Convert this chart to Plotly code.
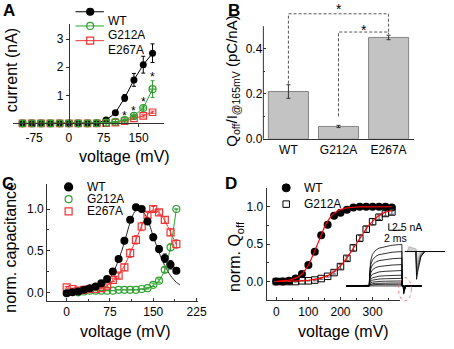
import math
import plotly.graph_objects as go

W, H = 454, 349
FONT = "Liberation Sans, Arial, Helvetica, sans-serif"
C_WT = "#000000"
C_G = "#2fa02f"
C_E = "#f03434"
AXC = "#333333"

# ---------------- Panel A : current-voltage ----------------
a_voltage = [-100, -80, -60, -40, -20, 0, 20, 40, 60, 80, 100, 120, 140, 160, 180]
a_wt = [0, 0, 0, 0, 0, 0, 0, 0, 0.02, 0.12, 0.38, 0.91, 1.55, 2.09, 2.50]
a_wt_err = [0, 0, 0, 0, 0, 0, 0, 0, 0.01, 0.03, 0.06, 0.12, 0.23, 0.30, 0.33]
a_g212a = [0, 0, 0, 0, 0, 0, 0, 0, 0.01, 0.03, 0.06, 0.12, 0.27, 0.55, 1.22]
a_g212a_err = [0, 0, 0, 0, 0, 0, 0, 0, 0, 0.01, 0.01, 0.02, 0.03, 0.07, 0.30]
a_e267a = [0, 0, 0, 0, 0, 0, 0, 0, 0, 0.01, 0.03, 0.08, 0.18, 0.27, 0.40]
a_e267a_err = [0, 0, 0, 0, 0, 0, 0, 0, 0, 0.01, 0.01, 0.02, 0.03, 0.04, 0.04]
a_star_voltage = [120, 140, 160, 180]
a_xticks = [-75, 0, 75, 150]
a_xticklabels = ["-75", "0", "75", "150"]
a_yticks = [1, 2, 3]

# ---------------- Panel B : Qoff / I ----------------
b_groups = ["WT", "G212A", "E267A"]
b_ratio = [0.21, 0.055, 0.45]
b_err = [0.03, 0.005, 0.01]
b_sig_left = [0, 1]
b_sig_right = [2, 2]
b_sig_top = [0.555, 0.474]
b_sig_left_bottom = [0.245, 0.10]
b_sig_right_bottom = [0.474, 0.465]
b_yticks = [0.0, 0.2, 0.4]

# ---------------- Panel C : normalized capacitance ----------------
c_voltage = [0, 10, 20, 30, 40, 50, 60, 70, 80, 90, 100, 110, 120, 130, 140, 150, 160, 170, 180, 190]
c_wt = [-0.01, 0.0, 0.01, 0.03, 0.05, 0.07, 0.11, 0.16, 0.25, 0.40, 0.62, 0.87, 1.02, 1.00, 0.85, 0.66, 0.52, 0.41, 0.33, 0.26]
c_wt_err = [0, 0, 0, 0, 0, 0, 0, 0, 0.01, 0.02, 0.02, 0.02, 0.02, 0.02, 0.03, 0.04, 0.04, 0.05, 0.05, 0.03]
c_e267a = [0.06, 0.04, 0.02, 0.03, 0.04, 0.04, 0.05, 0.08, 0.15, 0.20, 0.30, 0.47, 0.63, 0.79, 0.93, 1.00, 0.96, 0.87, 0.72, 0.58]
c_e267a_err = [0.01, 0.01, 0.01, 0.01, 0.01, 0.01, 0.01, 0.02, 0.02, 0.03, 0.04, 0.05, 0.05, 0.05, 0.03, 0.03, 0.03, 0.04, 0.04, 0.05]
c_g_voltage = [20, 30, 40, 50, 60, 70, 80, 90, 100, 110, 120, 130, 140, 150, 160, 170, 180, 190]
c_g212a = [0.0, 0.01, 0.02, 0.02, 0.02, 0.02, 0.02, 0.03, 0.03, 0.03, 0.03, 0.04, 0.05, 0.09, 0.14, 0.27, 0.54, 1.00]
c_g212a_err = [0, 0, 0, 0, 0, 0, 0, 0, 0, 0, 0, 0, 0.01, 0.02, 0.02, 0.03, 0.04, 0.0]
c_fit_wt_v = [0, 20, 40, 50, 60, 70, 80, 90, 100, 110, 118, 125, 132, 140, 150, 160, 170, 180, 190, 196]
c_fit_wt = [0.0, 0.01, 0.03, 0.05, 0.08, 0.13, 0.23, 0.39, 0.60, 0.84, 0.97, 1.00, 0.97, 0.88, 0.67, 0.48, 0.32, 0.20, 0.12, 0.09]
c_fit_e_v = [0, 20, 40, 60, 70, 80, 90, 100, 110, 120, 130, 140, 150, 160, 170, 180, 190]
c_fit_e = [0.03, 0.03, 0.03, 0.05, 0.08, 0.13, 0.21, 0.32, 0.47, 0.63, 0.80, 0.93, 0.99, 0.96, 0.86, 0.72, 0.57]
c_fit_g_v = [130, 140, 150, 160, 170, 180, 190]
c_fit_g = [0.03, 0.045, 0.08, 0.14, 0.27, 0.55, 1.00]
c_xticks = [0, 75, 150, 225]
c_yticks = [0.0, 0.5, 1.0]

# ---------------- Panel D : normalized Qoff ----------------
d_voltage = [0, 20, 40, 60, 80, 100, 120, 140, 160, 180, 200, 220, 240, 260, 280, 300, 320, 340, 360]
d_wt = [0.0, 0.0, 0.01, 0.04, 0.10, 0.22, 0.40, 0.62, 0.76, 0.88, 0.92, 0.96, 0.99, 1.0, 1.0, 1.0, 1.0, 1.0, 0.99]
d_wt_err = [0, 0, 0, 0.01, 0.01, 0.02, 0.02, 0.03, 0.03, 0.02, 0.02, 0.01, 0.01, 0.01, 0.01, 0.01, 0.01, 0.01, 0.01]
d_g212a = [0.0, 0.0, 0.0, 0.0, 0.01, 0.01, 0.02, 0.04, 0.07, 0.12, 0.20, 0.31, 0.45, 0.58, 0.70, 0.80, 0.86, 0.91, 0.93]
d_g212a_err = [0, 0, 0, 0, 0, 0, 0.01, 0.01, 0.01, 0.02, 0.03, 0.03, 0.04, 0.04, 0.04, 0.04, 0.03, 0.03, 0.03]
d_fit_vhalf = [128, 248]
d_fit_slope = [22, 36]
d_fit_v = list(range(0, 362, 4))
d_xticks = [0, 100, 200, 300]
d_yticks = [0.0, 0.5, 1.0]

# inset: raw current traces (ms, nA)
ins_levels = [15.1, 12.5, 10.1, 7.75, 5.6, 3.9, 2.75, 1.8, 1.07, 0.6, 0.25]
ins_tail_depth = [3.0, 2.6, 2.2, 1.8, 1.4, 1.0, 0.7, 0.5, 0.3, 0.2, 0.1]
ins_t_shape = [0, 0.1, 0.25, 0.5, 1.0, 1.5, 2.5, 3.5, 5.0]
ins_frac_shape = [0, 0.40, 0.62, 0.76, 0.86, 0.91, 0.95, 0.98, 1.0]
ins_zoom_base = 12.5
ins_zoom_depth = [10.1, 8.6, 7.2, 5.8, 4.4, 3.1, 2.0, 1.1]
ins_zoom_gray = ["#000000", "#333333", "#555555", "#707070", "#8a8a8a", "#a0a0a0", "#b5b5b5", "#c8c8c8"]

# ---------------- layout geometry (pixels) ----------------
A_BOX = (13, 167, 25, 126)      # x0, x1, ytop, ybottom
B_BOX = (268.7, 422, 5.1, 141.7)
C_BOX = (48, 201.7, 187.8, 306.8)
D_BOX = (272, 408, 191.9, 306.4)
I_BOX = (350, 454, 225, 310)
a_xr, a_yr = [-121, 204], [0, 3.52]
b_xr, b_yr = [-0.5, 2.5], [0, 0.594]
c_xr, c_yr = [-34, 227], [-0.1, 1.3]
d_xr, d_yr = [-30, 385], [-0.25, 1.25]
i_xr, i_yr = [-4.0, 11.6], [-6.5, 23.8]


def dx(b):
    return [b[0] / W, b[1] / W]


def dy(b):
    return [1 - b[3] / H, 1 - b[2] / H]


def px(x):
    return x / W


def py(y):
    return 1 - y / H


fig = go.Figure()


def err(arr, color):
    return dict(type="data", array=arr, color=color, thickness=1, width=2, visible=True)


# ---- Panel A traces
fig.add_trace(go.Scatter(x=a_voltage, y=a_wt, mode="lines+markers", xaxis="x", yaxis="y",
                         line=dict(color=C_WT, width=1),
                         marker=dict(symbol="circle", size=7, color=C_WT),
                         error_y=err(a_wt_err, C_WT), cliponaxis=False))
fig.add_trace(go.Scatter(x=a_voltage, y=a_e267a, mode="lines+markers", xaxis="x", yaxis="y",
                         line=dict(color=C_E, width=1),
                         marker=dict(symbol="square-open", size=6.5, color=C_E, line=dict(width=1.2, color=C_E)),
                         error_y=err(a_e267a_err, C_E), cliponaxis=False))
fig.add_trace(go.Scatter(x=a_voltage, y=a_g212a, mode="lines+markers", xaxis="x", yaxis="y",
                         line=dict(color=C_G, width=1),
                         marker=dict(symbol="circle-cross-open", size=7, color=C_G, line=dict(width=1.2, color=C_G)),
                         error_y=err(a_g212a_err, C_G), cliponaxis=False))
for v in a_star_voltage:
    i = a_voltage.index(v)
    fig.add_annotation(x=v, y=a_g212a[i] + a_g212a_err[i], xref="x", yref="y", text="*",
                       showarrow=False, yanchor="middle", yshift=4,
                       font=dict(size=12, color="#000", family=FONT))

# ---- Panel B traces
b_x = list(range(len(b_groups)))
fig.add_trace(go.Bar(x=b_x, y=b_ratio, xaxis="x2", yaxis="y2", width=0.8,
                     marker=dict(color="#c3c3c3", line=dict(color="#858585", width=1)),
                     error_y=dict(type="data", array=b_err, color="#333", thickness=1, width=2)))
for l, r, top, lb, rb in zip(b_sig_left, b_sig_right, b_sig_top, b_sig_left_bottom, b_sig_right_bottom):
    fig.add_trace(go.Scatter(x=[l, l, r, r], y=[lb, top, top, rb], mode="lines", xaxis="x2", yaxis="y2",
                             line=dict(color="#555", width=1, dash="3px,2px")))
b_star_shift = [5, 2]
for l, r, top, s in zip(b_sig_left, b_sig_right, b_sig_top, b_star_shift):
    fig.add_annotation(x=(l + r) / 2, y=top, xref="x2", yref="y2", text="*", showarrow=False,
                       yanchor="middle", yshift=s, font=dict(size=14, color="#000", family=FONT))
fig.add_shape(type="line", xref="x2 domain", yref="y2", x0=0, x1=0, y0=0, y1=0.5,
              line=dict(color=AXC, width=1))

# ---- Panel C traces
fig.add_trace(go.Scatter(x=c_fit_wt_v, y=c_fit_wt, mode="lines", xaxis="x3", yaxis="y3",
                         line=dict(color="#222", width=1, shape="spline", smoothing=0.8)))
fig.add_trace(go.Scatter(x=c_fit_e_v, y=c_fit_e, mode="lines", xaxis="x3", yaxis="y3",
                         line=dict(color=C_E, width=1, shape="spline", smoothing=0.8)))
fig.add_trace(go.Scatter(x=c_fit_g_v, y=c_fit_g, mode="lines", xaxis="x3", yaxis="y3",
                         line=dict(color=C_G, width=1, shape="spline", smoothing=0.8)))
fig.add_trace(go.Scatter(x=c_g_voltage, y=c_g212a, mode="markers", xaxis="x3", yaxis="y3",
                         marker=dict(symbol="circle-open", size=7, color=C_G, line=dict(width=1.2, color=C_G)),
                         error_y=err(c_g212a_err, C_G), cliponaxis=False))
fig.add_trace(go.Scatter(x=c_voltage, y=c_e267a, mode="markers", xaxis="x3", yaxis="y3",
                         marker=dict(symbol="square-open", size=7, color=C_E, line=dict(width=1.2, color=C_E)),
                         error_y=err(c_e267a_err, C_E), cliponaxis=False))
fig.add_trace(go.Scatter(x=c_voltage, y=c_wt, mode="markers", xaxis="x3", yaxis="y3",
                         marker=dict(symbol="circle", size=8, color=C_WT),
                         error_y=err(c_wt_err, C_WT), cliponaxis=False))

# ---- Panel D traces
fig.add_trace(go.Scatter(x=d_voltage, y=d_wt, mode="markers", xaxis="x4", yaxis="y4",
                         marker=dict(symbol="circle", size=8, color=C_WT),
                         error_y=err(d_wt_err, C_WT), cliponaxis=False))
fig.add_trace(go.Scatter(x=d_voltage, y=d_g212a, mode="markers", xaxis="x4", yaxis="y4",
                         marker=dict(symbol="square-open", size=6.5, color=C_WT, line=dict(width=1, color=C_WT)),
                         error_y=err(d_g212a_err, "#555"), cliponaxis=False))
for vh, k in zip(d_fit_vhalf, d_fit_slope):
    fig.add_trace(go.Scatter(x=d_fit_v, y=[1 / (1 + math.exp(-(v - vh) / k)) for v in d_fit_v],
                             mode="lines", xaxis="x4", yaxis="y4", line=dict(color="#ff0000", width=1.2)))

# ---- Inset traces (current recordings)
tx, ty = [], []
for L, dep in zip(ins_levels, ins_tail_depth):
    tx += [-3.5, 0] + ins_t_shape[1:] + [5.05, 5.22, 5.27, 5.6, 8.0, None]
    ty += [0, 0] + [L * f for f in ins_frac_shape[1:]] + [0, 0, -dep, 0, 0, None]
fig.add_trace(go.Scatter(x=tx, y=ty, mode="lines", xaxis="x5", yaxis="y5",
                         line=dict(color="#000", width=0.8)))
# magnified tail currents
fig.add_trace(go.Scatter(x=[5.8, 6.1, 6.6, 7.2, 7.2, 5.8],
                         y=[ins_zoom_base, ins_zoom_base + 1.8, ins_zoom_base + 1.4,
                            ins_zoom_base + 0.9, ins_zoom_base, ins_zoom_base],
                         mode="lines", fill="toself", fillcolor="#d0d0d0", xaxis="x5", yaxis="y5",
                         line=dict(color="#9a9a9a", width=0.6)))
for dep, col in zip(ins_zoom_depth[::-1], ins_zoom_gray[::-1]):
    fig.add_trace(go.Scatter(x=[7.15, 7.25, 7.45, 7.9, 8.5],
                             y=[ins_zoom_base, ins_zoom_base - dep, ins_zoom_base - dep * 0.7,
                                ins_zoom_base - dep * 0.2, ins_zoom_base],
                             mode="lines", xaxis="x5", yaxis="y5", line=dict(color=col, width=0.8)))
fig.add_trace(go.Scatter(x=[5.45, 11.6], y=[ins_zoom_base, ins_zoom_base], mode="lines", xaxis="x5", yaxis="y5",
                         line=dict(color="#000", width=1)))
# scale bars
fig.add_trace(go.Scatter(x=[3.0, 3.0, 5.0], y=[22.75, 20.25, 20.25], mode="lines", xaxis="x5", yaxis="y5",
                         line=dict(color="#000", width=1)))
fig.add_annotation(x=3.15, y=21.3, xref="x5", yref="y5", text="2.5 nA", showarrow=False, xanchor="left",
                   font=dict(size=10.5, family=FONT, color="#000"))
fig.add_annotation(x=4.1, y=17.3, xref="x5", yref="y5", text="2 ms", showarrow=False,
                   font=dict(size=10.5, family=FONT, color="#000"))
fig.add_shape(type="circle", xref="x5", yref="y5", x0=4.5, x1=6.45, y0=-5.4, y1=3.0,
              line=dict(color="#f08080", width=1, dash="dot"))

# ---- manual legends on a pixel overlay axis
LEG_FONT = dict(size=12, family=FONT, color="#000")
leg_a = [("WT", C_WT, "circle", 12), ("G212A", C_G, "circle-open", 26.5), ("E267A", C_E, "square-open", 41.5)]
for name, col, sym, yy in leg_a:
    fig.add_trace(go.Scatter(x=[77, 106], y=[yy, yy], mode="lines", xaxis="x6", yaxis="y6",
                             line=dict(color=col, width=1)))
    fig.add_trace(go.Scatter(x=[92], y=[yy], mode="markers", xaxis="x6", yaxis="y6",
                             marker=dict(symbol=sym, size=7, color=col, line=dict(width=1.2, color=col))))
    fig.add_annotation(x=px(108), y=py(yy), xref="paper", yref="paper", text=name, showarrow=False,
                       xanchor="left", height=14, font=LEG_FONT)
leg_c = [("WT", C_WT, "circle", 190.7, 8), ("G212A", C_G, "circle-open", 203.3, 7),
         ("E267A", C_E, "square-open", 215.7, 7)]
for name, col, sym, yy, sz in leg_c:
    fig.add_trace(go.Scatter(x=[70], y=[yy], mode="markers", xaxis="x6", yaxis="y6",
                             marker=dict(symbol=sym, size=sz, color=col, line=dict(width=1.2, color=col))))
    fig.add_annotation(x=px(88), y=py(yy), xref="paper", yref="paper", text=name, showarrow=False,
                       xanchor="left", height=12, borderpad=0, font=LEG_FONT)
leg_d = [("WT", C_WT, "circle", 191.7, 8), ("G212A", C_WT, "square-open", 208.3, 6.5)]
for name, col, sym, yy, sz in leg_d:
    fig.add_trace(go.Scatter(x=[292], y=[yy], mode="markers", xaxis="x6", yaxis="y6",
                             marker=dict(symbol=sym, size=sz, color=col, line=dict(width=1, color=col))))
    fig.add_annotation(x=px(308), y=py(yy), xref="paper", yref="paper", text=name, showarrow=False,
                       xanchor="left", height=14, font=LEG_FONT)

# ---- axis titles & panel letters
titles = [
    ("current (nA)", 12, 72, -90, 16),
    ("voltage (mV)", 127, 160, 0, 16),
    ("Q<sub>off</sub>/I<sub>@165mV</sub> (pC/nA)", 237, 83, -90, 15),
    ("norm. capacitance", 11, 252, -90, 16),
    ("voltage (mV)", 128, 338, 0, 16),
    ("norm. Q<sub>off</sub>", 241, 262, -90, 16),
    ("voltage (mV)", 350, 338, 0, 16),
]
for t, x, y, ang, fs in titles:
    fig.add_annotation(x=px(x), y=py(y), xref="paper", yref="paper", text=t, showarrow=False,
                       textangle=ang, xanchor="center", yanchor="middle",
                       font=dict(size=fs, family=FONT, color="#000"))
for t, x, y in [("A", 9, 11), ("B", 239, 11), ("C", 8, 187), ("D", 236, 187)]:
    fig.add_annotation(x=px(x), y=py(y), xref="paper", yref="paper", text="<b>%s</b>" % t, showarrow=False,
                       xanchor="center", yanchor="middle", font=dict(size=17, family=FONT, color="#000"))

tick_font = dict(size=12, family=FONT, color="#000")
base = dict(showgrid=False, zeroline=False, showline=True, linecolor=AXC, linewidth=1,
            ticks="inside", ticklen=3, tickcolor=AXC, tickfont=tick_font)

a_ypos = px(A_BOX[0] + (0 - a_xr[0]) / (a_xr[1] - a_xr[0]) * (A_BOX[1] - A_BOX[0]))

fig.update_layout(
    width=W, height=H, margin=dict(l=0, r=0, t=0, b=0),
    paper_bgcolor="white", plot_bgcolor="rgba(0,0,0,0)", showlegend=False,
    font=dict(family=FONT), hovermode=False,
    xaxis=dict(base, domain=dx(A_BOX), range=a_xr, anchor="y", tickvals=a_xticks, ticktext=a_xticklabels,
               ticks="outside"),
    yaxis=dict(base, domain=dy(A_BOX), range=a_yr, anchor="free", position=a_ypos, tickvals=a_yticks,
               ticks="outside"),
    xaxis2=dict(base, domain=dx(B_BOX), range=b_xr, anchor="y2", tickvals=b_x, ticktext=b_groups, ticks=""),
    yaxis2=dict(base, domain=dy(B_BOX), range=b_yr, anchor="x2", showline=False, tickvals=b_yticks,
                tickformat=".1f", minor=dict(tickvals=[0.1, 0.3], ticklen=2, ticks="inside", tickcolor=AXC)),
    xaxis3=dict(base, domain=dx(C_BOX), range=c_xr, anchor="y3", tickvals=c_xticks,
                minor=dict(tickvals=[37.5, 112.5, 187.5], ticklen=2, ticks="inside", tickcolor=AXC)),
    yaxis3=dict(base, domain=dy(C_BOX), range=c_yr, anchor="x3", tickvals=c_yticks, tickformat=".1f",
                minor=dict(tickvals=[0.25, 0.75], ticklen=2, ticks="inside", tickcolor=AXC)),
    xaxis4=dict(base, domain=dx(D_BOX), range=d_xr, anchor="y4", tickvals=d_xticks,
                minor=dict(tickvals=[50, 150, 250, 350], ticklen=2, ticks="inside", tickcolor=AXC)),
    yaxis4=dict(base, domain=dy(D_BOX), range=d_yr, anchor="x4", tickvals=d_yticks, tickformat=".1f",
                minor=dict(tickvals=[-0.25, 0.25, 0.75], ticklen=2, ticks="inside", tickcolor=AXC)),
    xaxis5=dict(domain=dx(I_BOX), range=i_xr, anchor="y5", visible=False),
    yaxis5=dict(domain=dy(I_BOX), range=i_yr, anchor="x5", visible=False),
    xaxis6=dict(domain=[0, 1], range=[0, W], anchor="y6", visible=False),
    yaxis6=dict(domain=[0, 1], range=[H, 0], anchor="x6", visible=False),
)

fig.write_html("out.html", config={"displayModeBar": False, "staticPlot": True},
               post_script="document.body.style.margin='0px';document.body.style.overflow='hidden';")
